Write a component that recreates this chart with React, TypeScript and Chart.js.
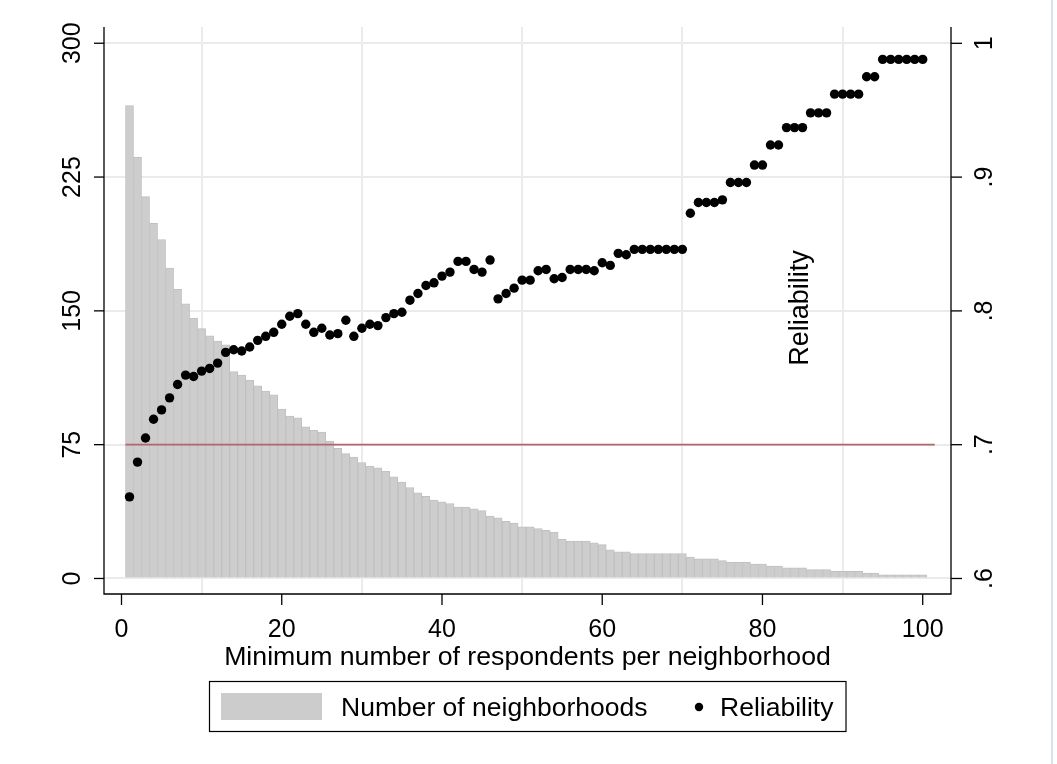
import React, { useEffect, useRef } from "react";
import { Chart, registerables } from "chart.js";

Chart.register(...registerables);

const minRespondents: number[] = Array.from({ length: 100 }, (_, i) => i + 1);

const neighborhoods: number[] = [
  265, 236, 214, 199, 190, 174, 162, 154, 146, 140,
  136, 133, 131, 116, 114, 111, 108, 105, 103, 95,
  91, 90, 85, 83, 82, 77, 73, 70, 68, 65,
  63, 62, 60, 57, 54, 51, 48, 46, 44, 43,
  42, 40, 40, 39, 38, 35, 34, 32, 31, 29,
  29, 28, 27, 26, 22, 21, 21, 21, 20, 19,
  16, 15, 15, 14, 14, 14, 14, 14, 14, 14,
  12, 11, 11, 11, 10, 9, 9, 9, 8, 8,
  7, 7, 6, 6, 6, 5, 5, 5, 4, 4,
  4, 4, 3, 3, 2, 2, 2, 2, 2, 2,
];

const reliability: number[] = [
  0.661, 0.687, 0.705, 0.719, 0.726, 0.735, 0.745, 0.752, 0.751, 0.755,
  0.757, 0.761, 0.769, 0.771, 0.770, 0.773, 0.778, 0.781, 0.784, 0.790,
  0.796, 0.798, 0.790, 0.784, 0.787, 0.782, 0.783, 0.793, 0.781, 0.787,
  0.790, 0.789, 0.795, 0.798, 0.799, 0.808, 0.813, 0.819, 0.821, 0.826,
  0.829, 0.837, 0.837, 0.831, 0.829, 0.838, 0.809, 0.813, 0.817, 0.823,
  0.823, 0.830, 0.831, 0.824, 0.825, 0.831, 0.831, 0.831, 0.830, 0.836,
  0.834, 0.843, 0.842, 0.846, 0.846, 0.846, 0.846, 0.846, 0.846, 0.846,
  0.873, 0.881, 0.881, 0.881, 0.883, 0.896, 0.896, 0.896, 0.909, 0.909,
  0.924, 0.924, 0.937, 0.937, 0.937, 0.948, 0.948, 0.948, 0.962, 0.962,
  0.962, 0.962, 0.975, 0.975, 0.988, 0.988, 0.988, 0.988, 0.988, 0.988,
];

const thresholdX: number[] = [0.5, 101.5];
const thresholdY: number[] = [0.7, 0.7];

const xTicks: number[] = [0, 20, 40, 60, 80, 100];
const yLeftTicks: number[] = [0, 75, 150, 225, 300];
const yRightTicks: number[] = [0.6, 0.7, 0.8, 0.9, 1];
const yRightTickLabels: string[] = [".6", ".7", ".8", ".9", "1"];

const xTitle = "Minimum number of respondents per neighborhood";
const barLabel = "Number of neighborhoods";
const pointLabel = "Reliability";
const annotationText = "Reliability";

const FONT = "'Liberation Sans', Arial, Helvetica, sans-serif";

const decorPlugin = {
  id: "stataDecor",
  afterDraw(chart: any) {
    const ctx: CanvasRenderingContext2D = chart.ctx;
    const area = chart.chartArea;
    const xs = chart.scales.x;
    const yl = chart.scales.y;
    const yr = chart.scales.y2;
    ctx.save();
    ctx.strokeStyle = "#000";
    ctx.fillStyle = "#000";
    ctx.lineWidth = 1.3;

    // axis lines
    ctx.beginPath();
    ctx.moveTo(area.left, area.top);
    ctx.lineTo(area.left, area.bottom);
    ctx.lineTo(area.right, area.bottom);
    ctx.lineTo(area.right, area.top);
    ctx.stroke();

    // left ticks + labels
    ctx.font = `25px ${FONT}`;
    yLeftTicks.forEach((v) => {
      const py = yl.getPixelForValue(v);
      ctx.beginPath();
      ctx.moveTo(area.left - 10, py);
      ctx.lineTo(area.left, py);
      ctx.stroke();
      ctx.save();
      ctx.translate(80, py);
      ctx.rotate(-Math.PI / 2);
      ctx.textAlign = "center";
      ctx.textBaseline = "alphabetic";
      ctx.fillText(String(v), 0, 0);
      ctx.restore();
    });

    // right ticks + labels
    yRightTicks.forEach((v, i) => {
      const py = yr.getPixelForValue(v);
      ctx.beginPath();
      ctx.moveTo(area.right, py);
      ctx.lineTo(area.right + 11, py);
      ctx.stroke();
      ctx.save();
      ctx.translate(992, py);
      ctx.rotate(-Math.PI / 2);
      ctx.textAlign = "center";
      ctx.textBaseline = "alphabetic";
      ctx.fillText(yRightTickLabels[i], 0, 0);
      ctx.restore();
    });

    // x ticks + labels
    xTicks.forEach((v) => {
      const px = xs.getPixelForValue(v);
      ctx.beginPath();
      ctx.moveTo(px, area.bottom);
      ctx.lineTo(px, area.bottom + 11);
      ctx.stroke();
      ctx.textAlign = "center";
      ctx.textBaseline = "alphabetic";
      ctx.fillText(String(v), px, 637);
    });

    // x title
    ctx.font = `26.7px ${FONT}`;
    ctx.textAlign = "center";
    ctx.fillText(xTitle, (area.left + area.right) / 2, 665);

    // annotation
    ctx.save();
    ctx.font = `27px ${FONT}`;
    ctx.translate(808, 308);
    ctx.rotate(-Math.PI / 2);
    ctx.textAlign = "center";
    ctx.textBaseline = "alphabetic";
    ctx.fillText(annotationText, 0, 0);
    ctx.restore();

    // legend
    ctx.lineWidth = 1.2;
    ctx.strokeStyle = "#000";
    ctx.strokeRect(209.5, 681.5, 636.5, 50);
    ctx.fillStyle = "#cccccc";
    ctx.fillRect(221, 693, 101, 27);
    ctx.fillStyle = "#000";
    ctx.font = `26.5px ${FONT}`;
    ctx.textAlign = "left";
    ctx.fillText(barLabel, 341, 715.5);
    ctx.beginPath();
    ctx.arc(699, 707, 4.2, 0, Math.PI * 2);
    ctx.fill();
    ctx.fillText(pointLabel, 720, 715.5);

    // right frame line
    ctx.strokeStyle = "#d9e4ea";
    ctx.lineWidth = 2;
    ctx.beginPath();
    ctx.moveTo(1052, 0);
    ctx.lineTo(1052, 764);
    ctx.stroke();

    ctx.restore();
  },
};

export default function App() {
  const ref = useRef<HTMLCanvasElement | null>(null);

  useEffect(() => {
    if (!ref.current) return;
    const chart = new Chart(ref.current, {
      type: "bar",
      data: {
        datasets: [
          {
            type: "scatter",
            label: pointLabel,
            data: minRespondents.map((x, i) => ({ x, y: reliability[i] })),
            yAxisID: "y2",
            xAxisID: "x",
            backgroundColor: "#000",
            borderColor: "#000",
            pointRadius: 4.7,
            pointBorderWidth: 0,
            order: 1,
          } as any,
          {
            type: "line",
            label: "threshold",
            data: thresholdX.map((x, i) => ({ x, y: thresholdY[i] })),
            yAxisID: "y2",
            xAxisID: "x",
            borderColor: "#b0666b",
            borderWidth: 1.8,
            pointRadius: 0,
            fill: false,
            order: 2,
          } as any,
          {
            type: "bar",
            label: barLabel,
            data: minRespondents.map((x, i) => ({ x, y: neighborhoods[i] })),
            yAxisID: "y",
            xAxisID: "x",
            backgroundColor: "#cdcdcd",
            borderColor: "#c0c0c0",
            borderWidth: 1,
            barPercentage: 1,
            categoryPercentage: 1,
            order: 3,
          } as any,
        ],
      },
      options: {
        responsive: false,
        animation: false,
        events: [],
        layout: { padding: { top: 27, left: 0, right: 0, bottom: 0 } },
        plugins: {
          legend: { display: false },
          tooltip: { enabled: false },
        },
        scales: {
          x: {
            type: "linear",
            position: "bottom",
            min: -2.184,
            max: 103.53,
            offset: false,
            grid: { color: "#ebebeb", lineWidth: 2, drawTicks: false },
            border: { display: false },
            ticks: { display: false },
            afterBuildTicks: (s: any) => {
              s.ticks = xTicks.map((v) => ({ value: v }));
            },
            afterFit: (s: any) => {
              s.height = 170;
            },
          },
          y: {
            type: "linear",
            position: "left",
            min: -8.7,
            max: 309.1,
            grid: { color: "#ebebeb", lineWidth: 2, drawTicks: false },
            border: { display: false },
            ticks: { display: false },
            afterBuildTicks: (s: any) => {
              s.ticks = yLeftTicks.map((v) => ({ value: v }));
            },
            afterFit: (s: any) => {
              s.width = 104;
            },
          },
          y2: {
            type: "linear",
            position: "right",
            min: 0.5884,
            max: 1.0122,
            grid: { display: false, drawTicks: false },
            border: { display: false },
            ticks: { display: false },
            afterBuildTicks: (s: any) => {
              s.ticks = yRightTicks.map((v) => ({ value: v }));
            },
            afterFit: (s: any) => {
              s.width = 106;
            },
          },
        },
      },
      plugins: [decorPlugin],
    });
    return () => chart.destroy();
  }, []);

  return (
    <div style={{ position: "fixed", left: 0, top: 0, width: 1057, height: 764, background: "#fff" }}>
      <canvas ref={ref} width={1057} height={764} style={{ display: "block" }} />
    </div>
  );
}
